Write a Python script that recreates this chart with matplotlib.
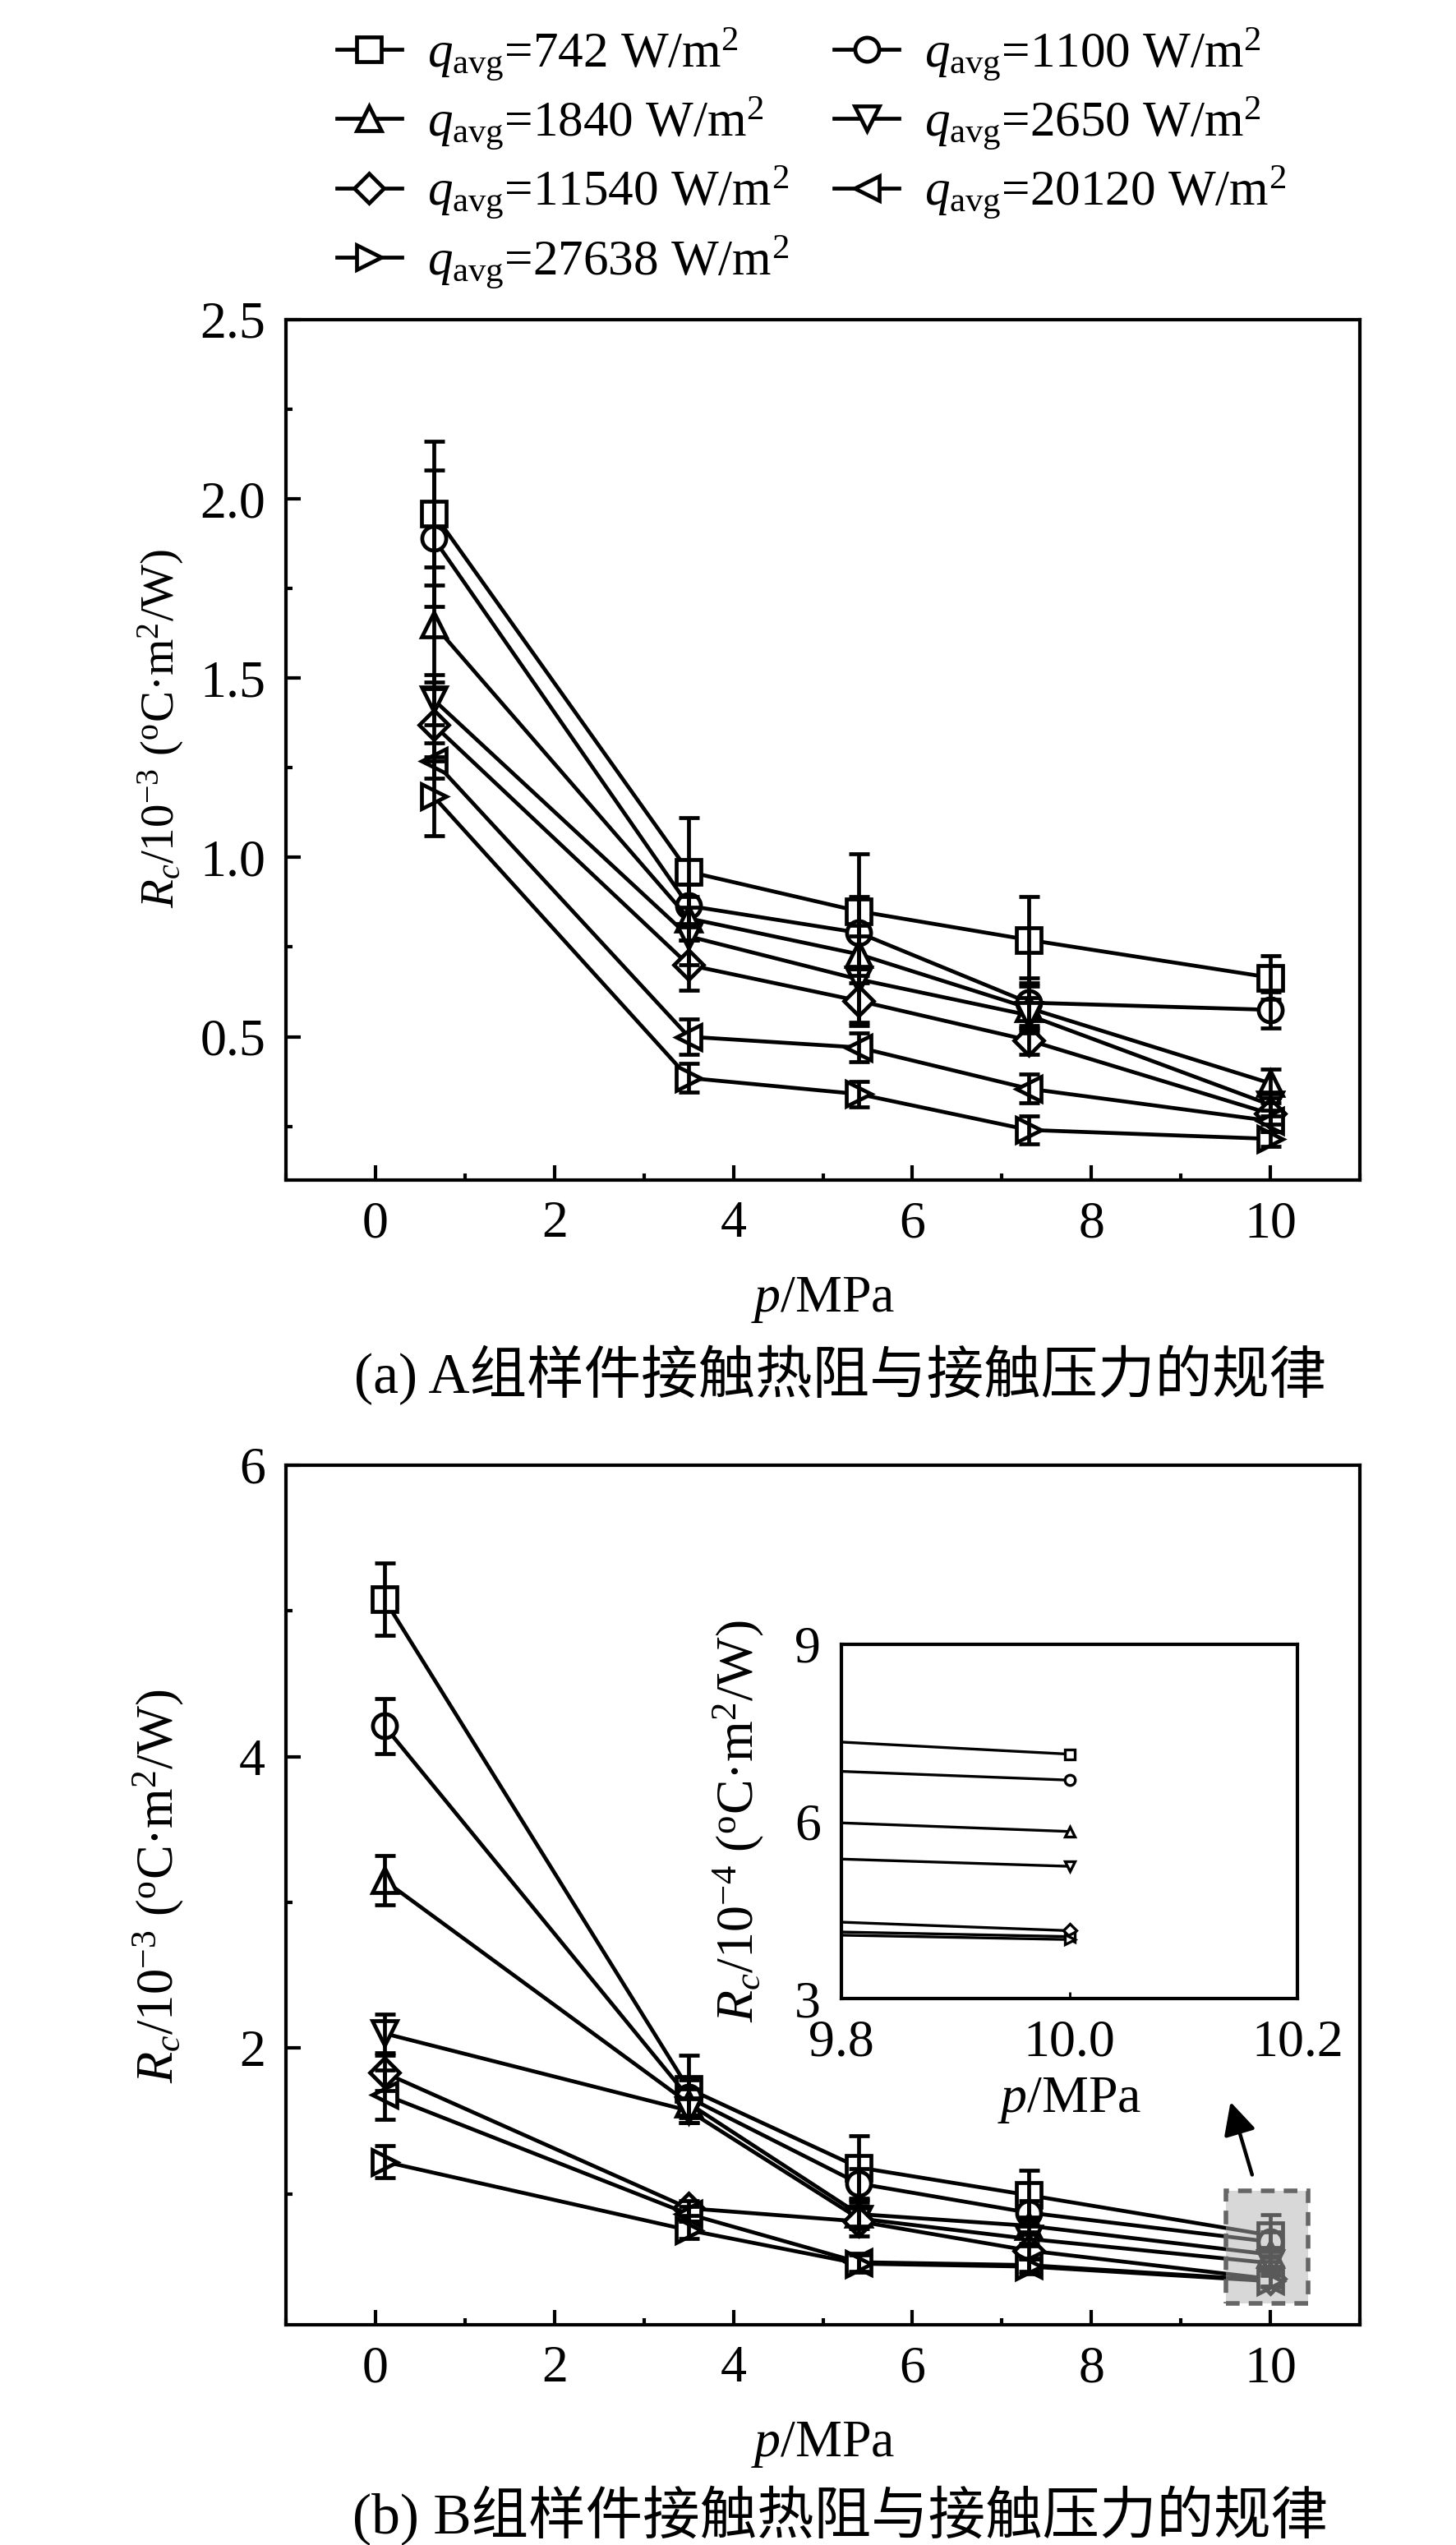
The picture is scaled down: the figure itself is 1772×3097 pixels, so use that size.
import matplotlib
matplotlib.use('Agg')
import matplotlib.pyplot as plt
from matplotlib.patches import Rectangle
from matplotlib.ticker import MultipleLocator

plt.rcParams['font.family'] = ['Liberation Serif', 'Noto Sans CJK SC']
plt.rcParams['mathtext.fontset'] = 'custom'
plt.rcParams['mathtext.rm'] = 'Liberation Serif'
plt.rcParams['mathtext.it'] = 'Liberation Serif:italic'
plt.rcParams['mathtext.fallback'] = 'stix'

# heat flux of each series and its marker
flux = ['742', '1100', '1840', '2650', '11540', '20120', '27638']
markers = ['s', 'o', '^', 'v', 'D', '<', '>']

# group A: pressure (MPa) and contact resistance (1e-3 C m2/W)
p_a = [0.65, 3.5, 5.4, 7.3, 10.0]
rc_a_742 = [1.96, 0.96, 0.85, 0.77, 0.665]
rc_a_1100 = [1.89, 0.865, 0.79, 0.595, 0.575]
rc_a_1840 = [1.65, 0.83, 0.73, 0.58, 0.37]
rc_a_2650 = [1.44, 0.78, 0.66, 0.56, 0.31]
rc_a_11540 = [1.37, 0.70, 0.60, 0.49, 0.285]
rc_a_20120 = [1.27, 0.50, 0.47, 0.355, 0.265]
rc_a_27638 = [1.17, 0.385, 0.34, 0.24, 0.215]
err_a_742 = [0.20, 0.15, 0.16, 0.12, 0.06]
err_a_1100 = [0.19, 0.06, 0.10, 0.07, 0.05]
err_a_1840 = [0.16, 0.06, 0.08, 0.06, 0.04]
err_a_2650 = [0.07, 0.08, 0.12, 0.05, 0.03]
err_a_11540 = [0.10, 0.07, 0.07, 0.04, 0.03]
err_a_20120 = [0.05, 0.05, 0.04, 0.04, 0.03]
err_a_27638 = [0.11, 0.04, 0.035, 0.04, 0.02]

# group B
p_b = [0.1, 3.5, 5.4, 7.3, 10.0]
rc_b_742 = [5.08, 1.72, 1.18, 0.99, 0.714]
rc_b_1100 = [4.21, 1.66, 1.07, 0.87, 0.670]
rc_b_1840 = [3.15, 1.62, 0.86, 0.78, 0.583]
rc_b_2650 = [2.10, 1.57, 0.83, 0.69, 0.524]
rc_b_11540 = [1.83, 0.90, 0.81, 0.61, 0.415]
rc_b_20120 = [1.68, 0.86, 0.53, 0.51, 0.405]
rc_b_27638 = [1.22, 0.75, 0.52, 0.50, 0.400]
err_b_742 = [0.25, 0.23, 0.22, 0.17, 0.14]
err_b_1100 = [0.19, 0.12, 0.10, 0.08, 0.07]
err_b_1840 = [0.17, 0.10, 0.08, 0.06, 0.05]
err_b_2650 = [0.13, 0.08, 0.07, 0.05, 0.04]
err_b_11540 = [0.12, 0.05, 0.10, 0.05, 0.05]
err_b_20120 = [0.17, 0.05, 0.06, 0.04, 0.04]
err_b_27638 = [0.11, 0.06, 0.06, 0.05, 0.04]

rc_a = [rc_a_742, rc_a_1100, rc_a_1840, rc_a_2650, rc_a_11540, rc_a_20120, rc_a_27638]
err_a = [err_a_742, err_a_1100, err_a_1840, err_a_2650, err_a_11540, err_a_20120, err_a_27638]
rc_b = [rc_b_742, rc_b_1100, rc_b_1840, rc_b_2650, rc_b_11540, rc_b_20120, rc_b_27638]
err_b = [err_b_742, err_b_1100, err_b_1840, err_b_2650, err_b_11540, err_b_20120, err_b_27638]

FS = 23
LW = 1.7


def style_axes(ax):
    for s in ax.spines.values():
        s.set_linewidth(1.5)
    ax.tick_params(which='both', direction='in', width=1.5, labelsize=FS,
                   top=False, right=False, pad=9)
    ax.tick_params(which='major', length=6.5)
    ax.tick_params(which='minor', length=3)


def draw_series(ax, p, rc, err, ms=10.5, lw=LW, with_err=True):
    handles = []
    for vals, e, m in zip(rc, err, markers):
        if with_err:
            ax.errorbar(p, vals, yerr=e, fmt='none', ecolor='k', elinewidth=lw,
                        capsize=4.5, capthick=lw, zorder=4)
        size = ms * 0.85 if m == 'D' else ms
        h, = ax.plot(p, vals, color='k', lw=lw, marker=m, ms=size,
                     mfc='white', mec='k', mew=lw, zorder=3)
        handles.append(h)
    return handles


fig = plt.figure(figsize=(8.86, 15.485), dpi=200)

ylab = r'$R_c/10^{-3}$ ($^{\rm o}$C·m$^2$/W)'

# (a)
ax1 = fig.add_axes([0.1964, 0.5363, 0.7376, 0.3381])
hs = draw_series(ax1, p_a, rc_a, err_a)
ax1.set_xlim(-1, 11)
ax1.set_ylim(0.1, 2.5)
ax1.xaxis.set_major_locator(MultipleLocator(2))
ax1.xaxis.set_minor_locator(MultipleLocator(1))
ax1.yaxis.set_major_locator(MultipleLocator(0.5))
ax1.yaxis.set_minor_locator(MultipleLocator(0.25))
style_axes(ax1)
ax1.set_xlabel('$p$/MPa', fontsize=FS, labelpad=12)
ax1.set_ylabel(ylab, fontsize=20.5)
ax1.yaxis.set_label_coords(-0.093, 0.525)

# (b)
ax2 = fig.add_axes([0.1964, 0.0865, 0.7376, 0.3378])
draw_series(ax2, p_b, rc_b, err_b)
ax2.set_xlim(-1, 11)
ax2.set_ylim(0.1, 6)
ax2.xaxis.set_major_locator(MultipleLocator(2))
ax2.xaxis.set_minor_locator(MultipleLocator(1))
ax2.yaxis.set_major_locator(MultipleLocator(2))
ax2.yaxis.set_minor_locator(MultipleLocator(1))
style_axes(ax2)
ax2.set_xlabel('$p$/MPa', fontsize=FS, labelpad=12)
ax2.set_ylabel(ylab, fontsize=22.5)
ax2.yaxis.set_label_coords(-0.093, 0.51)

# highlighted region and arrow
ax2.add_patch(Rectangle((9.5, 0.25), 0.92, 0.77, facecolor=(0.7, 0.7, 0.7),
                        alpha=0.5, edgecolor='none', zorder=6))
ax2.add_patch(Rectangle((9.5, 0.25), 0.92, 0.77, facecolor='none',
                        edgecolor='#666666', lw=2.0, ls=(0, (3, 2)), zorder=7))
ax2.annotate('', xy=(9.54, 1.66), xytext=(9.81, 1.10),
             arrowprops=dict(arrowstyle='-|>', color='k', lw=1.6,
                             mutation_scale=30), zorder=7)

# inset
ax3 = fig.add_axes([0.5779, 0.2147, 0.3132, 0.1392])
rc_b_small = [[v * 10 for v in s] for s in rc_b]
draw_series(ax3, p_b, rc_b_small, err_b, ms=4.5, lw=1.2, with_err=False)
ax3.set_xlim(9.8, 10.2)
ax3.set_ylim(3, 9)
ax3.set_xticks([9.8, 10.0, 10.2])
ax3.set_xticklabels(['9.8', '10.0', '10.2'])
ax3.set_yticks([3, 6, 9])
for s in ax3.spines.values():
    s.set_linewidth(1.5)
ax3.tick_params(axis='both', direction='in', labelsize=FS, pad=9, width=1.0)
ax3.tick_params(axis='y', length=0)
ax3.tick_params(axis='x', length=3)
ax3.set_xlabel('$p$/MPa', fontsize=FS, labelpad=4)
ax3.set_ylabel(r'$R_c/10^{-4}$ ($^{\rm o}$C·m$^2$/W)', fontsize=FS)
ax3.yaxis.set_label_coords(-0.165, 0.5)

# legend, filled row by row
order = [0, 2, 4, 6, 1, 3, 5]
labels = [r'$q_{\rm avg}$=' + f + r' W/m$^2$' for f in flux]
fig.legend([hs[i] for i in order], [labels[i] for i in order], ncol=2,
           loc='upper left', bbox_to_anchor=(0.214, 0.9995), frameon=False,
           fontsize=FS - 1, handlelength=1.3, handletextpad=0.5,
           columnspacing=0.9, labelspacing=0.25, borderpad=0, numpoints=1)

# captions
fig.text(0.577, 0.4598, '(a) A组样件接触热阻与接触压力的规律', fontsize=FS + 2,
         ha='center', va='center')
fig.text(0.577, 0.0115, '(b) B组样件接触热阻与接触压力的规律', fontsize=FS + 2,
         ha='center', va='center')

fig.savefig('out.png', dpi=200)
